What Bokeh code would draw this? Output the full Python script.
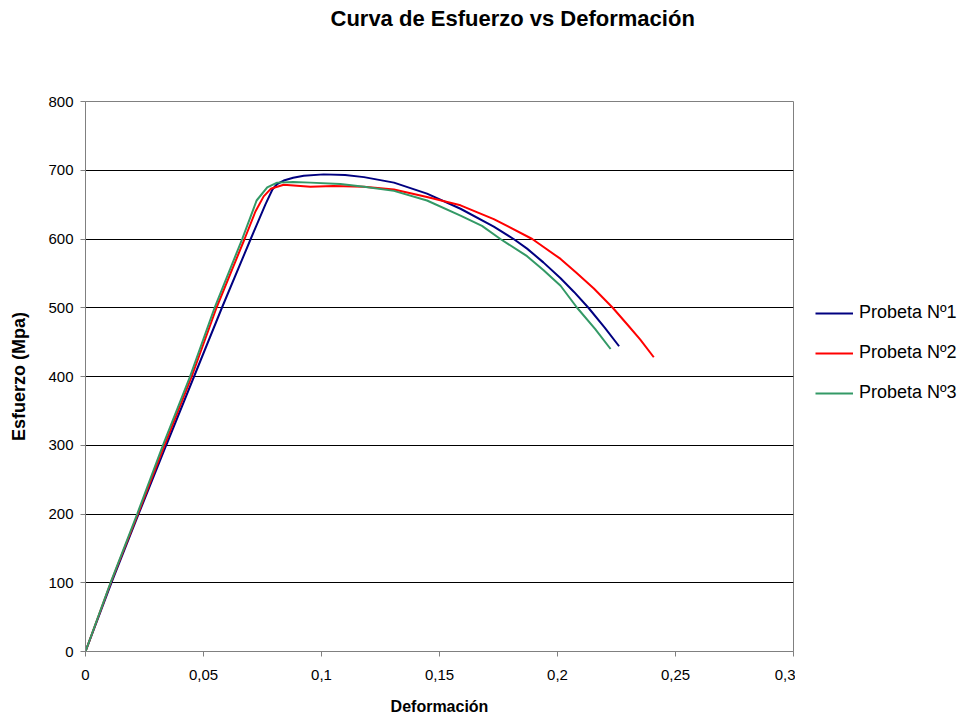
from bokeh.plotting import figure
from bokeh.layouts import row
from bokeh.models import Range1d, FixedTicker, Legend, LegendItem, Title
from bokeh.embed import file_html
from bokeh.resources import INLINE

# ---- data ----
series_names = ["Probeta Nº1", "Probeta Nº2", "Probeta Nº3"]

strain_1 = [0, 0.0110, 0.0225, 0.0342, 0.0460, 0.0578, 0.0700, 0.0762, 0.0792, 0.0812, 0.084, 0.088,
            0.0925, 0.1009, 0.110, 0.118, 0.1307, 0.1447, 0.1589, 0.173, 0.1814, 0.1871, 0.1940,
            0.2013, 0.2070, 0.2131, 0.2200, 0.2261]
stress_1 = [0, 100, 200, 300, 400, 500, 600, 650, 672, 680, 685, 689,
            692, 694, 693, 690, 682, 666, 644, 618, 600, 586, 566,
            543, 523, 500, 471, 444]

strain_2 = [0, 0.0107, 0.0222, 0.0335, 0.045, 0.0555, 0.0674, 0.072, 0.0755, 0.0785, 0.084, 0.0953,
            0.105, 0.118, 0.1307, 0.1447, 0.1589, 0.173, 0.1893, 0.2013, 0.2080, 0.2154, 0.2234,
            0.2295, 0.2350, 0.2408]
stress_2 = [0, 100, 200, 300, 400, 500, 600, 640, 662, 673, 679, 676,
            677, 676, 672, 661, 649, 629, 600, 571, 551, 528, 500,
            476, 454, 428]

strain_3 = [0, 0.0106, 0.0219, 0.0328, 0.0443, 0.0547, 0.0664, 0.0700, 0.0725, 0.0770, 0.0812, 0.0880,
            0.0953, 0.108, 0.118, 0.1307, 0.1447, 0.1589, 0.1680, 0.1758, 0.1871, 0.1940, 0.2013,
            0.2083, 0.2160, 0.2225]
stress_3 = [0, 100, 200, 300, 400, 500, 600, 633, 656, 675, 682, 683,
            682, 680, 676, 670, 656, 634, 619, 600, 575, 555, 532,
            500, 469, 440]

x_ticks = [0, 0.05, 0.1, 0.15, 0.2, 0.25, 0.3]
x_tick_labels = ["0", "0,05", "0,1", "0,15", "0,2", "0,25", "0,3"]
y_ticks = [0, 100, 200, 300, 400, 500, 600, 700, 800]

colors = ["#000080", "#FF0000", "#339966"]
FONT = "Liberation Sans"

strains = [strain_1, strain_2, strain_3]
stresses = [stress_1, stress_2, stress_3]

# ---- main chart ----
p = figure(width=795, height=717, output_backend="svg", toolbar_location=None,
           x_range=Range1d(0, 0.3), y_range=Range1d(0, 800),
           min_border_left=85, min_border_right=2, min_border_top=101, min_border_bottom=66)
p.background_fill_color = "white"
p.border_fill_color = "white"
p.outline_line_color = "#808080"
p.outline_line_width = 1

# spacer (closest to the frame) so the title sits near the top of the page
spacer = Title(text=" ", text_font_size="1px", standoff=68)
p.add_layout(spacer, "above")

p.title.text = "Curva de Esfuerzo vs Deformación"
p.title.align = "left"
p.title.offset = 245
p.title.text_font = FONT
p.title.text_font_size = "22px"
p.title.text_font_style = "bold"
p.title.text_color = "black"
p.title.standoff = 0

p.xgrid.visible = False
p.ygrid.grid_line_color = "black"
p.ygrid.grid_line_width = 1

p.xaxis.ticker = FixedTicker(ticks=x_ticks)
p.xaxis.major_label_overrides = dict(zip(x_ticks, x_tick_labels))
p.yaxis.ticker = FixedTicker(ticks=y_ticks)

for ax in (p.xaxis[0], p.yaxis[0]):
    ax.axis_line_color = "#808080"
    ax.major_tick_line_color = "#808080"
    ax.major_tick_in = 0
    ax.major_tick_out = 5
    ax.minor_tick_line_color = None
    ax.major_label_text_font = FONT
    ax.major_label_text_font_size = "15px"
    ax.major_label_text_color = "black"
    ax.axis_label_text_font = FONT
    ax.axis_label_text_font_style = "bold"
    ax.axis_label_text_color = "black"

p.xaxis.axis_label = "Deformación"
p.yaxis.axis_label = "Esfuerzo (Mpa)"
p.xaxis.axis_label_text_font_size = "16px"
p.yaxis.axis_label_text_font_size = "18px"
p.xaxis.major_label_standoff = 13
p.xaxis.axis_label_standoff = 15
p.yaxis.major_label_standoff = 7
p.yaxis.axis_label_standoff = 16

for xs, ys, c in zip(strains, stresses, colors):
    p.line(xs, ys, line_color=c, line_width=2)

# ---- legend panel (right side); its series lie outside its view, only the keys show ----
q = figure(width=166, height=717, output_backend="svg", toolbar_location=None,
           x_range=Range1d(10, 11), y_range=Range1d(10000, 10001),
           x_axis_location=None, y_axis_location=None,
           min_border_left=0, min_border_right=0, min_border_top=0, min_border_bottom=0)
q.grid.visible = False
q.outline_line_color = None
q.background_fill_color = "white"
q.border_fill_color = "white"

keys = [q.line(xs, ys, line_color=c, line_width=2) for xs, ys, c in zip(strains, stresses, colors)]
legend = Legend(items=[LegendItem(label=n, renderers=[r]) for n, r in zip(series_names, keys)],
                location=(20, 248), padding=0, margin=0, spacing=19,
                glyph_width=38, glyph_height=20, label_standoff=6,
                label_text_font=FONT, label_text_font_size="18px", label_text_color="black",
                border_line_color=None, background_fill_alpha=0)
q.add_layout(legend, "center")

layout = row(p, q, spacing=0)
open("out.html", "w").write(file_html(layout, INLINE))
